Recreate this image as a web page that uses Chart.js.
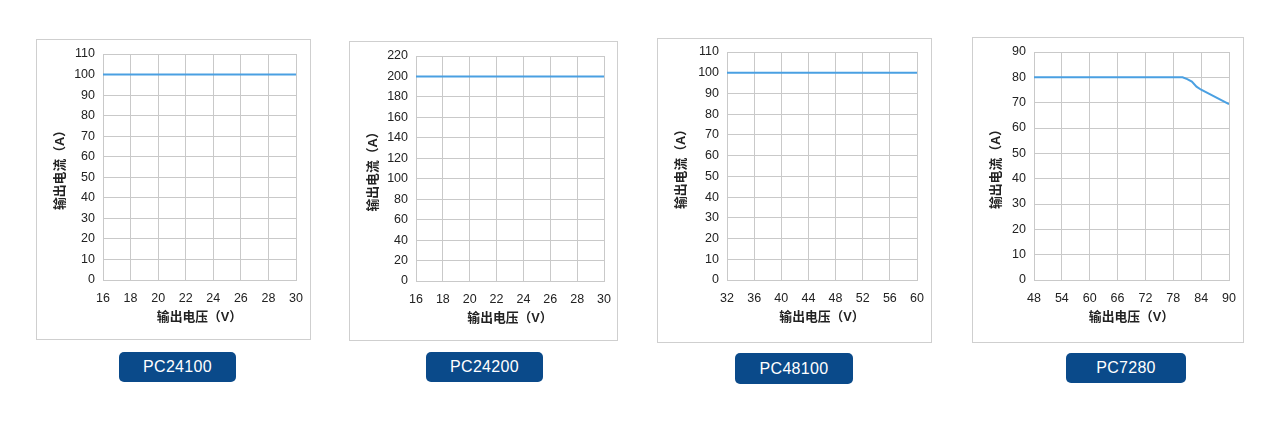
<!DOCTYPE html>
<html>
<head>
<meta charset="utf-8">
<script src="https://cdn.jsdelivr.net/npm/chart.js@4"></script>
<style>
    body { margin: 0; background: #fff; width: 1284px; height: 433px; position: relative; overflow: hidden; }
    .box { position: absolute; border: 1px solid #cfcfcf; background: #fff; }
    .box canvas { display: block; }
    .tag {
        position: absolute; background: #0a4a8a; color: #fff; border-radius: 5px;
        font: 16px "Liberation Sans", Arial, sans-serif; text-align: center; letter-spacing: 0.3px;
    }
</style>
</head>
<body>
<div class="box" id="box1"><canvas id="chart1"></canvas></div>
<div class="box" id="box2"><canvas id="chart2"></canvas></div>
<div class="box" id="box3"><canvas id="chart3"></canvas></div>
<div class="box" id="box4"><canvas id="chart4"></canvas></div>
<div class="tag" id="tag1"></div>
<div class="tag" id="tag2"></div>
<div class="tag" id="tag3"></div>
<div class="tag" id="tag4"></div>
<script>
// models
let models = ["PC24100", "PC24200", "PC48100", "PC7280"];

// output voltage (V) / output current (A)
let volts1 = [16, 30];
let amps1 = [100, 100];
let volts2 = [16, 30];
let amps2 = [200, 200];
let volts3 = [32, 60];
let amps3 = [100, 100];
let volts4 = [48, 80, 81, 82, 83, 84, 90];
let amps4 = [80, 80, 79.3, 78.3, 76.3, 75.1, 69.4];

// axis ranges: [min, max, step]
let xRanges = [[16, 30, 2], [16, 30, 2], [32, 60, 4], [48, 90, 6]];
let yRanges = [[0, 110, 10], [0, 220, 20], [0, 110, 10], [0, 90, 10]];

let xTitle = "输出电压（V）";
let yTitle = "输出电流（A）";

// layout: box [left, top, width, height], plot insets [l, t, r, b], tag [left, top, width, height]
let boxes = [[36, 39, 275, 301], [349, 41, 269, 300], [657, 38, 275, 305], [972, 37, 272, 306]];
let insets = [[67, 15, 15, 60], [67, 15, 14, 60], [70, 14, 15, 63], [62, 15, 15, 63]];
let tags = [[119, 352, 117, 30], [426, 352, 117, 30], [735, 353, 118, 31], [1066, 353, 120, 30]];

let seriesX = [volts1, volts2, volts3, volts4];
let seriesY = [amps1, amps2, amps3, amps4];

let gridColor = "#c9c9c9";
let lineColor = "#4aa0e2";
let tickFont = { family: "'Liberation Sans', Arial, sans-serif", size: 12.5 };
let titleFont = { family: "'Liberation Sans', 'Noto Sans CJK SC', sans-serif", size: 12.8, weight: "bold", lineHeight: 1.2 };

models.forEach((name, i) => {
    let b = boxes[i];
    let box = document.getElementById("box" + (i + 1));
    box.style.left = b[0] + "px";
    box.style.top = b[1] + "px";
    box.style.width = (b[2] - 2) + "px";
    box.style.height = (b[3] - 2) + "px";

    let t = tags[i];
    let tag = document.getElementById("tag" + (i + 1));
    tag.style.left = t[0] + "px";
    tag.style.top = t[1] + "px";
    tag.style.width = t[2] + "px";
    tag.style.height = t[3] + "px";
    tag.style.lineHeight = t[3] + "px";
    tag.textContent = name;

    let canvas = document.getElementById("chart" + (i + 1));
    canvas.width = b[2] - 2;
    canvas.height = b[3] - 2;

    let ins = insets[i];
    let yWidth = ins[0] - 1;
    let xHeight = ins[3] - 1;

    new Chart(canvas.getContext("2d"), {
        type: "line",
        data: {
            datasets: [{
                data: seriesX[i].map((v, k) => ({ x: v, y: seriesY[i][k] })),
                borderColor: lineColor,
                backgroundColor: lineColor,
                borderWidth: 2,
                pointRadius: 0,
                tension: 0
            }]
        },
        options: {
            responsive: false,
            animation: false,
            devicePixelRatio: 1,
            layout: { padding: { left: 0, top: ins[1] - 1, right: ins[2] - 1, bottom: 0 } },
            plugins: { legend: { display: false }, tooltip: { enabled: false } },
            scales: {
                x: {
                    type: "linear",
                    min: xRanges[i][0],
                    max: xRanges[i][1],
                    afterFit: s => {
                        s.height = xHeight;
                        s.paddingLeft = 0;
                        s.paddingRight = 0;
                    },
                    ticks: { stepSize: xRanges[i][2], color: "#222", font: tickFont, padding: 11, maxRotation: 0 },
                    grid: { color: gridColor, drawTicks: false },
                    border: { color: gridColor },
                    title: { display: true, text: xTitle, color: "#222", font: titleFont, padding: { top: 0, bottom: xHeight - 38 - 7 } }
                },
                y: {
                    min: yRanges[i][0],
                    max: yRanges[i][1],
                    afterFit: s => {
                        s.width = yWidth;
                        s.paddingTop = 0;
                        s.paddingBottom = 0;
                    },
                    ticks: { stepSize: yRanges[i][2], color: "#222", font: tickFont, padding: 8 },
                    grid: { color: gridColor, drawTicks: false },
                    border: { color: gridColor },
                    title: { display: true, text: yTitle, color: "#222", font: titleFont, padding: { top: 16, bottom: 0 } }
                }
            }
        }
    });
});
</script>
</body>
</html>
